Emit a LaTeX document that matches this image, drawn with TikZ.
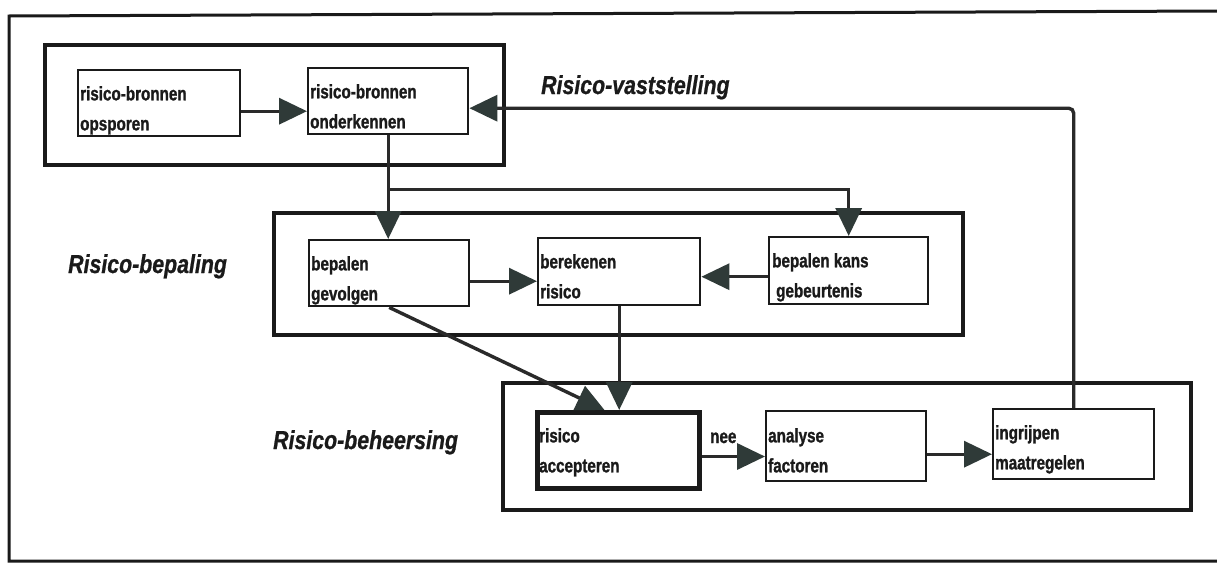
\documentclass[tikz,border=0pt]{standalone}
\usepackage{fontspec}
\usetikzlibrary{arrows.meta}
\newfontfamily\boxfont{Liberation Sans}[FakeStretch=0.78,FakeBold=1.2]
\newfontfamily\titlefont{Liberation Sans}[FakeStretch=0.82,FakeBold=0.8]
\definecolor{ink}{HTML}{1A1A1A}
\definecolor{wirec}{HTML}{2A2A2A}
\definecolor{headc}{HTML}{2F3A38}

\begin{document}
\begin{tikzpicture}[x=1pt,y=-1pt,
  group/.style={draw=ink, line width=3.8pt, inner sep=0pt, anchor=north west},
  stepbox/.style={draw=ink, line width=2.4pt, fill=white, inner sep=0pt,
    anchor=north west, minimum width=160pt, minimum height=66pt},
  boxtext/.style={anchor=north west, inner sep=0pt, align=left, text=ink,
    font=\boxfont\bfseries\fontsize{19.5pt}{30pt}\selectfont},
  phase/.style={anchor=base west, inner sep=0pt, text=ink,
    font=\titlefont\bfseries\itshape\fontsize{26pt}{30pt}\selectfont},
  conn/.style={draw=wirec, line width=3.4pt,
    -{Triangle[length=28pt,width=26pt,color=headc]}},
]
\useasboundingbox[fill=white] (0,0) rectangle (1217,565);

% outer frame
\draw[ink, line width=3pt] (1217,11) -- (9,16) -- (9,561) -- (1217,561);

% phase groups
\node[group, minimum width=459pt, minimum height=120pt] (g1) at (43,43) {};
\node[group, minimum width=689pt, minimum height=122pt] (g2) at (272,211) {};
\node[group, minimum width=688pt, minimum height=127pt] (g3) at (501,381) {};

% phase titles
\node[phase] (t1) at (541,94) {Risico-vaststelling};
\node[phase] (t2) at (68,273) {Risico-bepaling};
\node[phase] (t3) at (273,449) {Risico-beheersing};

% step boxes
\node[stepbox, minimum width=162pt] (A) at (77,69) {};
\node[stepbox] (B) at (307,67) {};
\node[stepbox] (G) at (308,239) {};
\node[stepbox, minimum width=162pt, minimum height=67pt] (R) at (537,237) {};
\node[stepbox, minimum width=159pt, minimum height=67pt] (K) at (768,236) {};
\node[stepbox, line width=5pt, minimum width=162pt, minimum height=76pt] (Acc) at (535,410) {};
\node[stepbox, minimum height=70pt] (An) at (765,410) {};
\node[stepbox, minimum width=161pt, minimum height=70pt] (In) at (992,408) {};

% box texts
\node[boxtext] (At) at ([xshift=3pt,yshift=-17pt]A.north west) {risico-bronnen\\opsporen};
\node[boxtext] (Bt) at ([xshift=3pt,yshift=-17pt]B.north west) {risico-bronnen\\onderkennen};
\node[boxtext] (Gt) at ([xshift=3pt,yshift=-17pt]G.north west) {bepalen\\gevolgen};
\node[boxtext] (Rt) at ([xshift=3pt,yshift=-17pt]R.north west) {berekenen\\risico};
\node[boxtext] (Kt) at ([xshift=4pt,yshift=-17pt]K.north west) {bepalen kans\\\hspace*{4pt}gebeurtenis};
\node[boxtext] (Acct) at ([xshift=4pt,yshift=-18pt]Acc.north west) {risico\\accepteren};
\node[boxtext] (Ant) at ([xshift=3pt,yshift=-18pt]An.north west) {analyse\\factoren};
\node[boxtext] (Int) at ([xshift=3pt,yshift=-17pt]In.north west) {ingrijpen\\maatregelen};
\node[boxtext, anchor=base west] (nee) at (710,443) {nee};

% connectors
\draw[conn] ([yshift=-8pt]A.east) -- ([yshift=-8pt]A.east -| B.west);
\draw[conn, rounded corners=5pt] (In.north) |- ([yshift=-7pt]B.east);
\draw[conn] (B.south) -- (B.south |- G.north);
\path (B.south) ++(0,54) coordinate (split);
\draw[conn] (split) -| (K.north);
\draw[conn] ([yshift=-8pt]G.east) -- ([yshift=-8pt]G.east -| R.west);
\draw[conn] ([yshift=-6pt]K.west) -- ([yshift=-6pt]K.west -| R.east);
\draw[conn] (G.south) -- ([xshift=-14pt]Acc.north);
\draw[conn] (R.south) -- (R.south |- Acc.north);
\draw[conn] ([yshift=-6pt]Acc.east) -- ([yshift=-6pt]Acc.east -| An.west);
\draw[conn] ([yshift=-8pt]An.east) -- ([yshift=-8pt]An.east -| In.west);
\end{tikzpicture}
\end{document}
